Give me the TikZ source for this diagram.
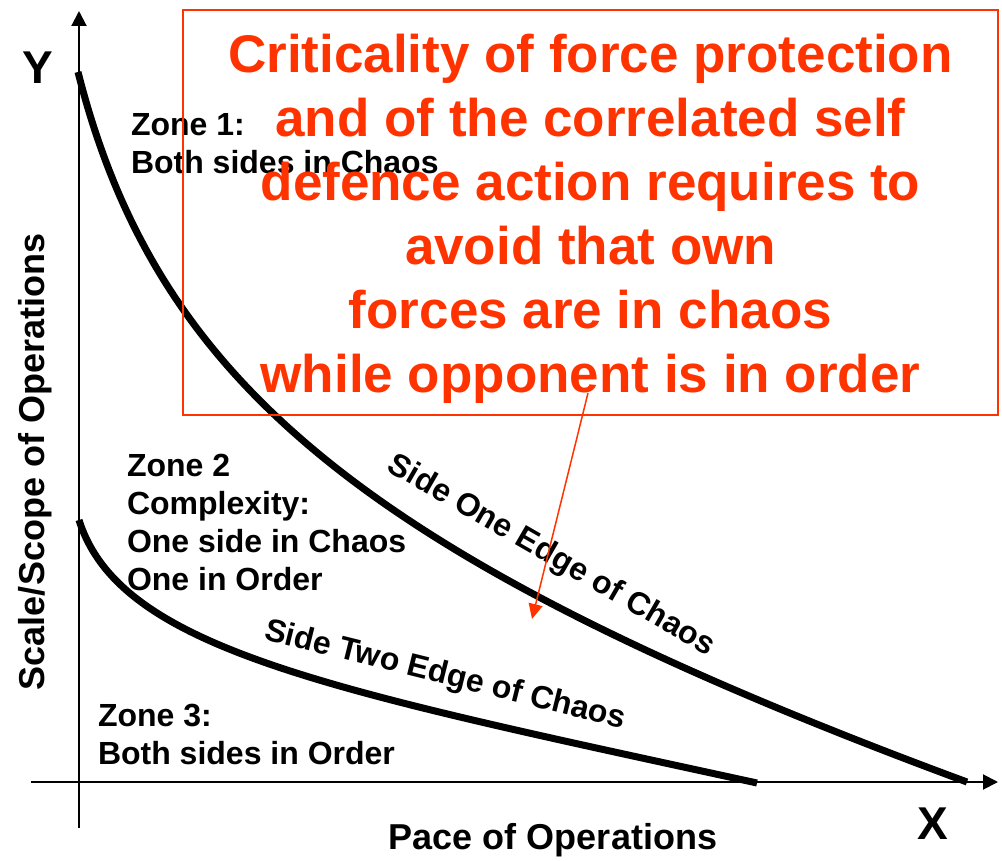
\documentclass[tikz,border=0pt]{standalone}
\usepackage{fontspec}
\setmainfont{Liberation Sans}
\usetikzlibrary{positioning,arrows.meta}
\definecolor{alertred}{RGB}{255,51,0}
\tikzset{
  % Specifications for style of nodes:
  base/.style = {
    inner sep=0pt,
    outer sep=0pt,
    font=\bfseries
  },
  zone/.style = {
    base,
    align=left,
    anchor=base west,
    font=\fontsize{16}{19}\selectfont\bfseries
  },
  edgelabel/.style = {
    base,
    font=\fontsize{16}{19}\selectfont\bfseries
  },
  axislabel/.style = {
    base,
    font=\fontsize{18}{22}\selectfont\bfseries
  },
  axisname/.style = {
    base,
    font=\fontsize{23}{28}\selectfont\bfseries
  },
  notebox/.style = {
    rectangle,
    draw=alertred,
    line width=1pt,
    minimum width=407.5pt,
    minimum height=202.5pt
  },
  notetext/.style = {
    base,
    align=center,
    text=alertred,
    font=\fontsize{26.5}{32}\selectfont\bfseries
  },
  % Specifications for style of lines:
  axis/.style = {
    line width=1pt,
    -{Triangle[length=7.5pt,width=7.5pt]}
  },
  chaosedge/.style = {
    line width=3.5pt
  },
  pointer/.style = {
    draw=alertred,
    line width=0.75pt,
    -{Triangle[length=7.5pt,width=7pt]}
  },
}

\begin{document}
\begin{tikzpicture}[x=0.5pt, y=-0.5pt]
    \useasboundingbox (0,0) rectangle (1002,861);
    % Axes and their labels
    \coordinate (ybottom) at (79,828);
    \coordinate (ytop)    at (79,11);
    \coordinate (xleft)   at (31,782);
    \coordinate (xright)  at (998,782);
    \draw[axis] (ybottom) -- (ytop);
    \draw[axis] (xleft) -- (xright);
    \node[axisname]             (ylabel) at (38,68)   {Y};
    \node[axisname]             (xlabel) at (933,824) {X};
    \node[axislabel]            (pace)   at (553,840) {Pace of Operations};
    \node[axislabel, rotate=90] (scope)  at (35,462)  {Scale/Scope of Operations};
    % Zones (base is the last line)
    \node[zone] (zone1) at (131,174) {Zone 1:\\Both sides in Chaos};
    \node[zone] (zone2) at (127,590) {Zone 2\\Complexity:\\One side in Chaos\\One in Order};
    \node[zone] (zone3) at (98,764)  {Zone 3:\\Both sides in Order};
    % Edges of chaos
    \coordinate (onestart) at (78,72);
    \coordinate (oneend)   at (967,782);
    \coordinate (twostart) at (79,520);
    \coordinate (twoend)   at (757,783);
    \draw[chaosedge] (onestart) .. controls (157,384) and (367,560) .. (oneend);
    \draw[chaosedge] (twostart) .. controls (120,650) and (330,690) .. (twoend);
    \node[edgelabel, rotate=-30] (sideone) at (551,556) {Side One Edge of Chaos};
    \node[edgelabel, rotate=-14] (sidetwo) at (445,676) {Side Two Edge of Chaos};
    % Note on force protection
    \node[notebox]  (note)     at (590.5,212.5) {};
    \node[notetext] (notetext) at (590.5,219)   {Criticality of force protection\\and of the correlated self\\defence action requires to\\avoid that own\\forces are in chaos\\while opponent is in order};
    \coordinate (pointerstart) at (588,393);
    \coordinate (pointertip)   at (532,619);
    \draw[pointer] (pointerstart) -- (pointertip);
  \end{tikzpicture}
\end{document}
